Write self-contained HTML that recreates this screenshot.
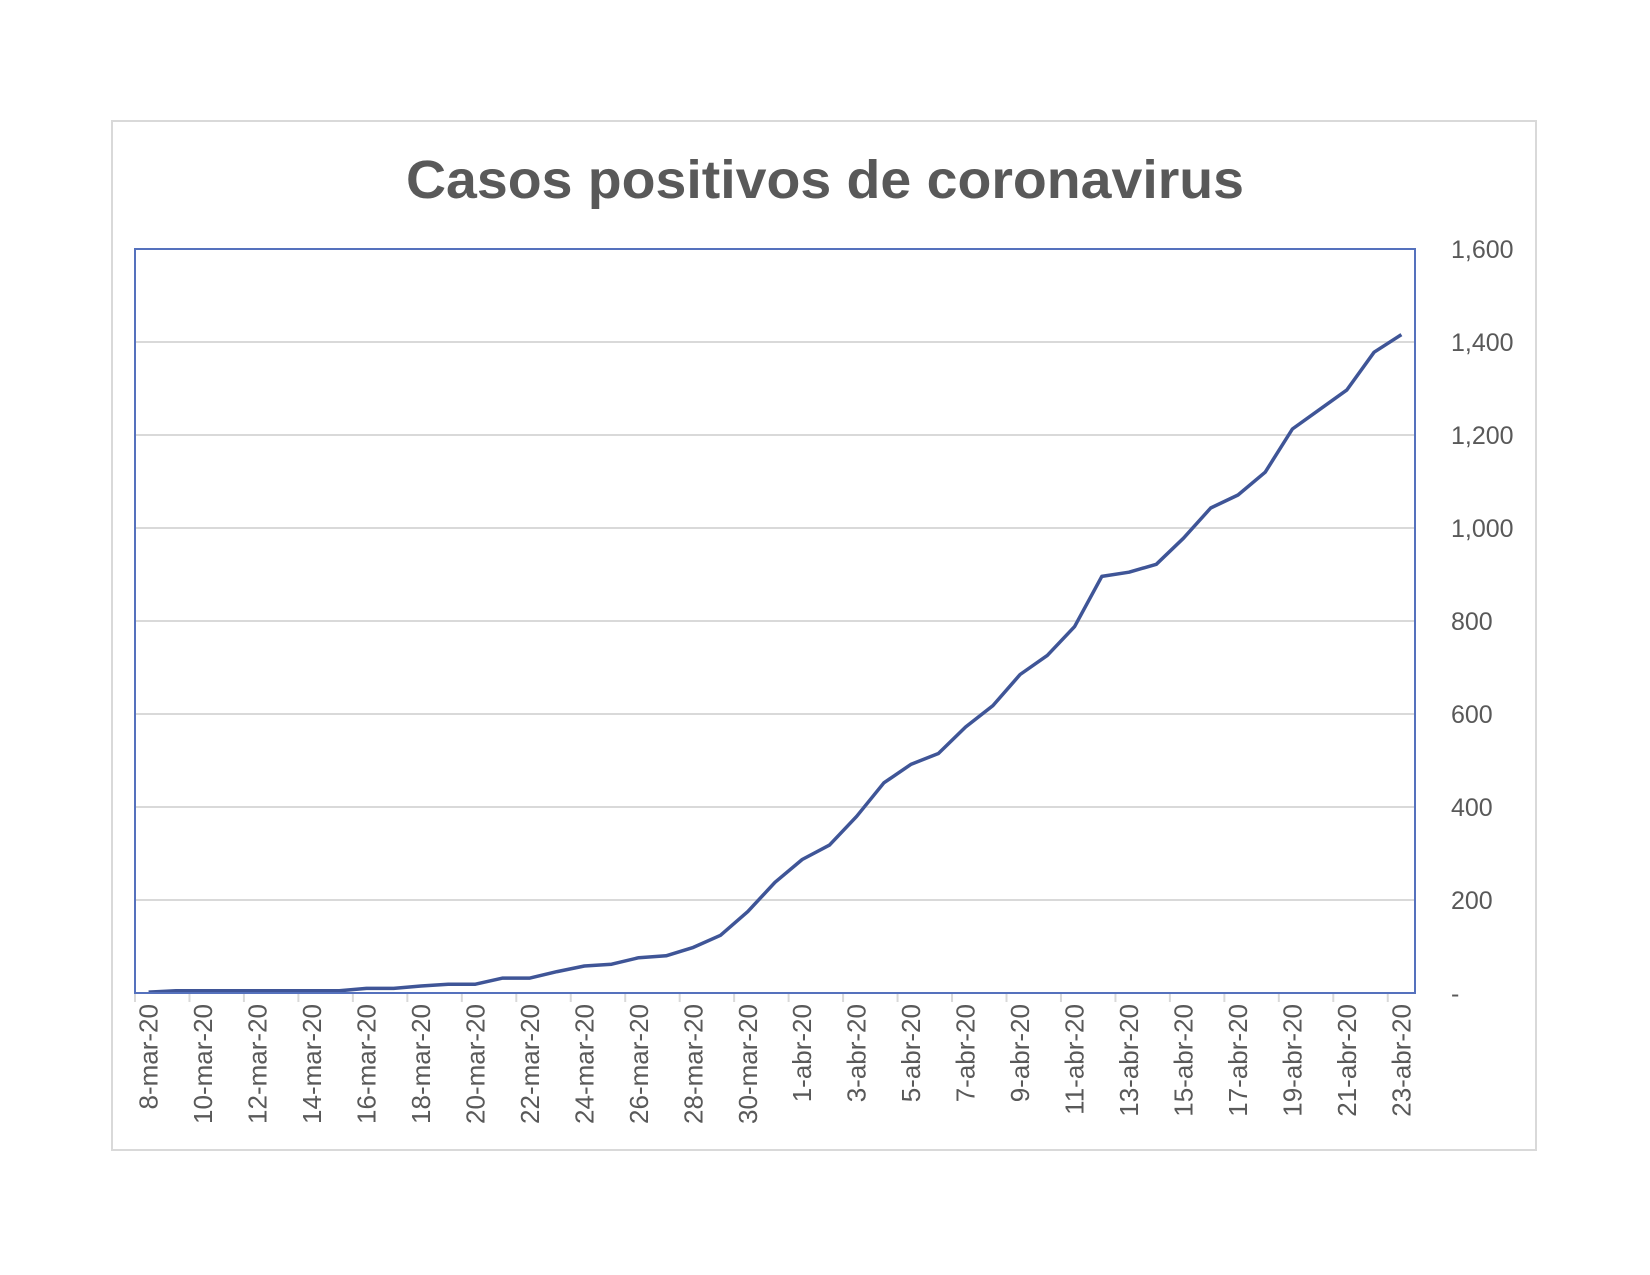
<!DOCTYPE html>
<html><head><meta charset="utf-8"><style>
html,body{margin:0;padding:0;background:#fff;width:1650px;height:1275px;overflow:hidden}
svg{display:block;font-family:"Liberation Sans",sans-serif}
</style></head><body>
<svg id="chart" width="1650" height="1275" xmlns="http://www.w3.org/2000/svg">
<rect x="112" y="121" width="1424" height="1029" fill="#fff" stroke="#d9d9d9" stroke-width="2"/>
<text x="825" y="198" text-anchor="middle" font-size="54" font-weight="bold" fill="#595959" textLength="838" lengthAdjust="spacingAndGlyphs">Casos positivos de coronavirus</text>
<g id="grid"></g>
<g id="xaxis"></g>
<g id="yaxis"></g>
<g id="series"></g>
<rect x="135" y="249" width="1280" height="744" fill="none" stroke="#5571bd" stroke-width="2"/>
</svg>
<script>
const categories = ["8-mar-20","9-mar-20","10-mar-20","11-mar-20","12-mar-20","13-mar-20","14-mar-20","15-mar-20","16-mar-20","17-mar-20","18-mar-20","19-mar-20","20-mar-20","21-mar-20","22-mar-20","23-mar-20","24-mar-20","25-mar-20","26-mar-20","27-mar-20","28-mar-20","29-mar-20","30-mar-20","31-mar-20","1-abr-20","2-abr-20","3-abr-20","4-abr-20","5-abr-20","6-abr-20","7-abr-20","8-abr-20","9-abr-20","10-abr-20","11-abr-20","12-abr-20","13-abr-20","14-abr-20","15-abr-20","16-abr-20","17-abr-20","18-abr-20","19-abr-20","20-abr-20","21-abr-20","22-abr-20","23-abr-20"];
const cases = [2,5,5,5,5,5,5,5,10,10,15,19,19,32,32,46,58,62,76,80,98,124,175,238,287,318,380,452,492,515,572,618,685,726,788,896,905,922,978,1043,1071,1120,1213,1255,1297,1378,1416];
const yTicks = [0,200,400,600,800,1000,1200,1400,1600];
const yTickLabels = ["-","200","400","600","800","1,000","1,200","1,400","1,600"];

const NS="http://www.w3.org/2000/svg";
const X0=135,X1=1415,Y0=993,Y1=249,YMAX=1600;
const step=(X1-X0)/categories.length;
const xPos=i=>X0+(i+0.5)*step;
const yPos=v=>Y0-(v/YMAX)*(Y0-Y1);
function mk(tag,attrs,parent){const e=document.createElementNS(NS,tag);for(const k in attrs)e.setAttribute(k,attrs[k]);parent.appendChild(e);return e;}
const grid=document.getElementById('grid'),xa=document.getElementById('xaxis'),ya=document.getElementById('yaxis'),ser=document.getElementById('series');
yTicks.forEach((t,i)=>{
  const y=yPos(t);
  if(t>0&&t<YMAX){const g=mk('line',{x1:X0,x2:X1,y1:y,y2:y,stroke:'#d9d9d9','stroke-width':2},grid);
  
  }
  const tx=mk('text',{x:1451,y:y+9,'font-size':25,fill:'#595959'},ya);
  tx.textContent=yTickLabels[i];
  
  
});
const ax=mk('line',{x1:X0,x2:X1,y1:Y0,y2:Y0,stroke:'#d9d9d9','stroke-width':2},xa);


for(let i=0;i<=categories.length;i+=2){
  const x=X0+i*step;
  const tk=mk('line',{x1:x,x2:x,y1:Y0,y2:Y0+9,stroke:'#d9d9d9','stroke-width':2},xa);
  
  
}
categories.forEach((c,i)=>{
  if(i%2)return;
  const x=xPos(i)+9,y=1004;
  const t=mk('text',{x:x,y:y,'font-size':26,fill:'#595959','text-anchor':'end',transform:`rotate(-90 ${x} ${y})`},xa);
  t.textContent=c;
  
  
});
const pts=cases.map((v,i)=>xPos(i).toFixed(1)+','+yPos(v).toFixed(1)).join(' ');
const pl=mk('polyline',{points:pts,fill:'none',stroke:'#3f5597','stroke-width':3.5,'stroke-linejoin':'round'},ser);


</script>
</body></html>
